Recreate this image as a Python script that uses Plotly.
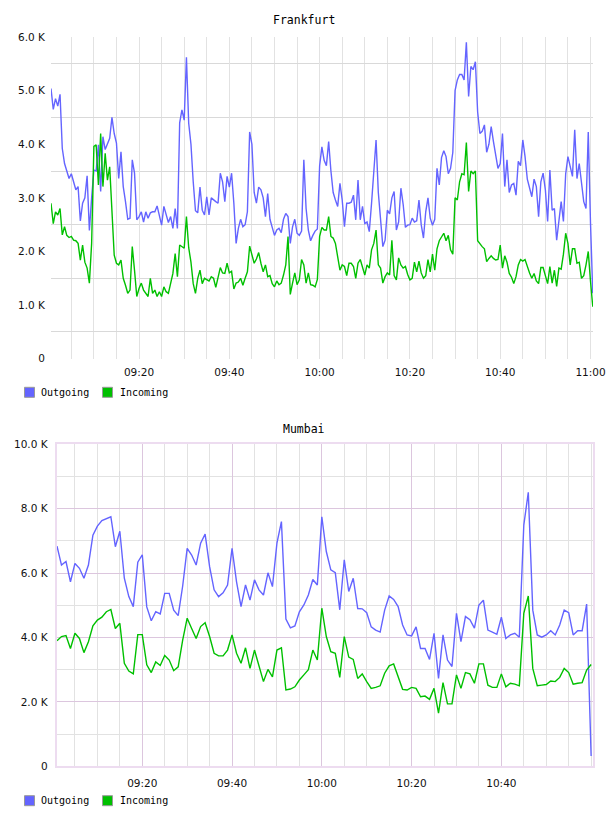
import pandas as pd
import plotly.graph_objects as go

# ---------------- data (values in K) ----------------
FRA_START = "2024-01-01 09:00:30"   # 30 s samples
FRA_OUT = [5.04, 4.65, 4.85, 4.71, 4.93, 3.92, 3.64, 3.50, 3.36, 3.45,
           3.30, 3.15, 3.21, 2.57, 2.90, 3.00, 3.41, 2.39, 3.00, 3.52,
           3.50, 3.99, 3.12, 4.14, 3.90, 3.99, 4.11, 4.50, 4.20, 4.02,
           3.36, 3.86, 3.21, 2.93, 2.60, 2.62, 3.71, 3.46, 2.59, 2.65,
           2.74, 2.55, 2.74, 2.62, 2.72, 2.74, 2.74, 2.85, 2.68, 2.49,
           2.84, 2.68, 2.54, 2.65, 2.43, 2.80, 2.43, 4.40, 4.64, 4.45,
           5.62, 4.39, 4.00, 3.30, 2.76, 2.72, 3.20, 2.77, 2.68, 3.02,
           2.68, 3.00, 2.96, 2.93, 2.90, 3.46, 3.30, 2.93, 3.40, 3.20,
           3.46, 2.90, 2.15, 2.43, 2.60, 2.46, 2.50, 2.74, 4.23, 4.00,
           3.10, 2.90, 3.20, 3.15, 3.00, 2.65, 3.08, 2.60, 2.45, 2.30,
           2.40, 2.43, 2.35, 2.60, 2.71, 2.65, 2.15, 2.46, 2.60, 2.34,
           2.30, 2.38, 3.71, 2.80, 2.40, 2.20, 2.30, 2.38, 2.42, 3.60,
           3.95, 3.70, 3.60, 4.05, 3.50, 3.10, 2.96, 2.84, 3.27, 2.96,
           2.46, 2.90, 2.90, 2.92, 3.05, 2.59, 3.33, 2.59, 2.84, 2.52,
           2.55, 2.37, 2.90, 3.52, 4.08, 3.10, 2.65, 2.09, 2.21, 2.77,
           2.70, 3.00, 3.12, 2.40, 2.55, 3.18, 2.88, 2.45, 2.49, 2.50,
           2.62, 2.55, 2.57, 2.96, 2.50, 2.25, 2.74, 3.00, 2.62, 2.49,
           2.60, 3.55, 3.24, 3.75, 3.88, 3.77, 3.45, 3.55, 3.85, 5.00,
           5.20, 5.30, 5.30, 5.20, 5.90, 4.89, 5.45, 5.39, 5.54, 4.60,
           4.20, 4.24, 4.36, 3.85, 4.00, 4.33, 4.05, 3.75, 3.55, 3.64,
           4.20, 3.21, 3.71, 3.10, 3.24, 3.27, 3.05, 3.68, 3.60, 4.08,
           3.77, 3.35, 3.18, 3.02, 3.35, 3.21, 2.65, 3.30, 3.46, 3.15,
           2.56, 3.52, 2.77, 2.80, 2.21, 2.59, 2.93, 2.56, 3.45, 3.77,
           3.61, 3.40, 4.27, 3.36, 3.64, 3.27, 2.93, 2.80, 4.23, 2.52,
           1.22]
FRA_IN = [2.90, 2.52, 2.74, 2.68, 2.80, 2.31, 2.46, 2.30, 2.26, 2.28,
          2.21, 2.20, 2.15, 1.84, 2.12, 1.80, 1.69, 1.41, 2.15, 3.96,
          3.99, 3.24, 4.20, 3.21, 3.83, 3.33, 3.58, 2.65, 1.93, 1.78,
          1.75, 1.84, 1.50, 1.37, 1.22, 1.28, 2.09, 1.65, 1.16, 1.31,
          1.41, 1.28, 1.22, 1.16, 1.50, 1.22, 1.28, 1.16, 1.25, 1.16,
          1.34, 1.25, 1.22, 1.41, 1.59, 1.96, 1.53, 2.12, 2.09, 2.06,
          2.65, 2.07, 1.80, 1.40, 1.22, 1.50, 1.65, 1.40, 1.50, 1.47,
          1.45, 1.53, 1.50, 1.33, 1.50, 1.70, 1.60, 1.59, 1.78, 1.60,
          1.63, 1.30, 1.41, 1.43, 1.50, 1.37, 1.50, 1.62, 2.10, 1.95,
          1.78, 1.86, 1.98, 1.78, 1.62, 1.75, 1.53, 1.55, 1.40, 1.34,
          1.45, 1.38, 1.41, 1.56, 1.75, 2.28, 1.20, 1.41, 1.60, 1.38,
          1.47, 1.85, 1.75, 1.41, 1.60, 1.38, 1.37, 1.34, 1.48, 2.28,
          2.45, 2.40, 2.40, 2.65, 2.28, 2.25, 2.15, 1.90, 1.65, 1.75,
          1.72, 1.55, 1.78, 1.78, 1.72, 1.50, 1.78, 1.85, 1.70, 1.56,
          1.75, 1.69, 2.03, 2.15, 2.40, 1.75, 1.69, 1.41, 1.53, 1.60,
          1.56, 2.21, 1.55, 1.47, 1.88, 1.75, 1.69, 1.72, 1.57, 1.47,
          1.50, 1.80, 1.62, 1.82, 1.60, 1.50, 1.55, 1.85, 1.62, 1.95,
          1.65, 2.05, 2.20, 2.28, 2.34, 2.20, 2.30, 2.03, 1.95, 3.00,
          2.96, 3.30, 3.45, 3.43, 4.03, 3.12, 3.50, 3.45, 3.50, 2.20,
          2.14, 2.09, 2.05, 1.81, 1.87, 1.92, 1.87, 1.84, 1.85, 2.12,
          1.69, 1.92, 1.80, 1.59, 1.52, 1.40, 1.53, 1.75, 1.85, 1.82,
          1.85, 1.70, 1.60, 1.50, 1.59, 1.45, 1.40, 1.70, 1.70, 1.55,
          1.40, 1.72, 1.41, 1.65, 1.35, 1.69, 1.67, 1.95, 2.34, 2.15,
          1.75, 2.05, 2.05, 1.78, 1.80, 1.50, 1.55, 1.75, 2.00, 1.44,
          0.97]

MUM_START = "2024-01-01 09:01:00"   # 1 min samples
MUM_OUT = [6.84, 6.25, 6.36, 5.73, 6.30, 6.15, 5.84, 6.25, 7.18, 7.46,
           7.63, 7.70, 7.75, 6.82, 7.30, 5.84, 5.27, 4.96, 6.34, 6.57,
           4.95, 4.52, 4.80, 4.73, 5.37, 5.37, 4.85, 4.68, 5.60, 6.77,
           6.56, 6.25, 6.93, 7.21, 6.20, 5.48, 5.27, 5.39, 5.63, 6.77,
           5.73, 4.96, 5.63, 5.16, 5.79, 5.48, 5.32, 6.01, 5.58, 6.93,
           7.60, 4.57, 4.30, 4.36, 4.80, 5.01, 5.32, 5.80, 5.63, 7.75,
           6.67, 6.10, 6.01, 4.86, 6.41, 5.43, 5.84, 4.90, 4.89, 4.77,
           4.33, 4.23, 4.17, 4.85, 5.29, 5.18, 4.96, 4.39, 4.08, 4.05,
           4.33, 3.66, 3.66, 3.32, 4.13, 2.73, 4.08, 3.30, 3.10, 4.75,
           3.87, 4.65, 4.55, 4.29, 5.01, 5.16, 4.23, 4.17, 4.10, 4.63,
           3.97, 4.08, 4.13, 4.01, 7.49, 8.51, 4.85, 4.08, 4.01, 4.08,
           4.21, 4.08, 4.39, 4.85, 4.77, 4.08, 4.21, 4.21, 5.04, 0.32]
MUM_IN = [3.90, 4.03, 4.06, 3.66, 4.13, 3.97, 3.53, 3.87, 4.36, 4.54,
          4.63, 4.80, 4.87, 4.28, 4.44, 3.20, 2.96, 2.87, 4.09, 4.09,
          3.15, 2.91, 3.24, 3.13, 3.44, 3.30, 2.97, 3.09, 3.92, 4.60,
          4.28, 3.97, 4.34, 4.46, 4.03, 3.51, 3.43, 3.43, 3.61, 4.08,
          3.51, 3.20, 3.68, 3.04, 3.61, 3.15, 2.63, 3.01, 2.78, 3.61,
          3.68, 2.37, 2.40, 2.47, 2.68, 2.84, 3.00, 3.61, 3.30, 4.91,
          4.03, 3.56, 3.51, 2.76, 4.03, 3.39, 3.32, 2.73, 2.87, 2.63,
          2.42, 2.45, 2.50, 2.89, 3.12, 3.18, 2.78, 2.39, 2.37, 2.45,
          2.42, 2.16, 2.18, 2.08, 2.42, 1.65, 2.60, 1.94, 1.94, 2.84,
          2.42, 2.91, 2.87, 2.58, 3.18, 3.18, 2.52, 2.45, 2.45, 2.87,
          2.47, 2.58, 2.55, 2.50, 4.75, 5.29, 3.04, 2.50, 2.52, 2.54,
          2.65, 2.63, 2.76, 3.04, 2.91, 2.55, 2.58, 2.60, 2.99, 3.16]

FRA_YTICKS = [0, 1000, 2000, 3000, 4000, 5000, 6000]
FRA_YLABELS = ["0", "1.0 K", "2.0 K", "3.0 K", "4.0 K", "5.0 K", "6.0 K"]
MUM_YTICKS = [0, 2000, 4000, 6000, 8000, 10000]
MUM_YLABELS = ["0", "2.0 K", "4.0 K", "6.0 K", "8.0 K", "10.0 K"]
MUM_XTICKS = ["09:20", "09:40", "10:00", "10:20", "10:40"]
SERIES = ["Outgoing", "Incoming"]

# ---------------- styles ----------------
BLUE = "#6464ff"
GREEN = "#00c000"
W, H = 608, 816
DAY = "2024-01-01 "
TICKFONT = dict(family="DejaVu Sans", size=10.5, color="#111")
MONO = "DejaVu Sans Mono"


def px_x(p):
    return p / W


def px_y(p):
    return 1 - p / H


fra_t = pd.date_range(FRA_START, periods=len(FRA_OUT), freq="30s")
mum_t = pd.date_range(MUM_START, periods=len(MUM_OUT), freq="1min")

fig = go.Figure()
fig.add_trace(go.Scatter(x=fra_t, y=[v * 1000 for v in FRA_OUT], mode="lines",
                         line=dict(color=BLUE, width=1.4), xaxis="x", yaxis="y",
                         name=SERIES[0], showlegend=False))
fig.add_trace(go.Scatter(x=fra_t, y=[v * 1000 for v in FRA_IN], mode="lines",
                         line=dict(color=GREEN, width=1.4), xaxis="x", yaxis="y",
                         name=SERIES[1], showlegend=False))
fig.add_trace(go.Scatter(x=mum_t, y=[v * 1000 for v in MUM_OUT], mode="lines",
                         line=dict(color=BLUE, width=1.4), xaxis="x2", yaxis="y2",
                         name=SERIES[0], showlegend=False))
fig.add_trace(go.Scatter(x=mum_t, y=[v * 1000 for v in MUM_IN], mode="lines",
                         line=dict(color=GREEN, width=1.4), xaxis="x2", yaxis="y2",
                         name=SERIES[1], showlegend=False))

GRID = "#e2e2e2"
HGRID = "#d9d9d9"
PURPLE = "#dcc6de"
FRAME = "#eddcf0"

fig.update_layout(
    template="none",
    width=W, height=H, autosize=False,
    margin=dict(l=0, r=0, t=0, b=0, pad=0),
    paper_bgcolor="white", plot_bgcolor="white",
    showlegend=False,
    xaxis=dict(domain=[px_x(51), px_x(593)], anchor="y", type="date",
               automargin=False,
               range=[DAY + "09:00:30", DAY + "11:00:33"],
               tick0=DAY + "09:00:00", dtick=20 * 60 * 1000, tickformat="%H:%M",
               showgrid=True, gridcolor=GRID, gridwidth=1, zeroline=False,
               showline=False, ticks="", tickfont=TICKFONT, ticklabelstandoff=6,
               minor=dict(tick0=DAY + "09:00:00", dtick=5 * 60 * 1000,
                          showgrid=True, gridcolor=GRID, gridwidth=1, ticks="")),
    yaxis=dict(domain=[px_y(358.7), px_y(37)], anchor="x", range=[0, 6000],
               automargin=False,
               tickmode="array", tickvals=FRA_YTICKS, ticktext=FRA_YLABELS,
               showgrid=False, zeroline=False, showline=False, ticks="",
               tickfont=TICKFONT, ticklabelstandoff=5,
               minor=dict(tickmode="array",
                          tickvals=[v + 500 for v in FRA_YTICKS[:-1]],
                          showgrid=True, gridcolor=HGRID, gridwidth=1, ticks="")),
    xaxis2=dict(domain=[px_x(56.7), px_x(593.3)], anchor="y2", type="date",
                automargin=False,
                range=[DAY + "09:00:56", DAY + "11:00:29"],
                tickmode="array", tickvals=[DAY + t for t in MUM_XTICKS],
                ticktext=MUM_XTICKS,
                showgrid=True, gridcolor=PURPLE, gridwidth=1, zeroline=False,
                showline=True, mirror=True, linecolor=FRAME, linewidth=2,
                ticks="", tickfont=TICKFONT, ticklabelstandoff=6,
                minor=dict(tick0=DAY + "09:00:00", dtick=5 * 60 * 1000,
                           showgrid=True, gridcolor=GRID, gridwidth=1, ticks="")),
    yaxis2=dict(domain=[px_y(766.3), px_y(444.3)], anchor="x2", range=[0, 10000],
                automargin=False,
                tickmode="array", tickvals=MUM_YTICKS, ticktext=MUM_YLABELS,
                showgrid=True, gridcolor=PURPLE, gridwidth=1, zeroline=False,
                showline=True, mirror=True, linecolor=FRAME, linewidth=2,
                ticks="", tickfont=TICKFONT, ticklabelstandoff=5,
                minor=dict(tickmode="array",
                           tickvals=[v + 1000 for v in MUM_YTICKS[:-1]],
                           showgrid=True, gridcolor=GRID, gridwidth=1, ticks="")),
)

annotations = [
    dict(text="Frankfurt", x=0.5, y=px_y(20), xref="paper", yref="paper",
         xanchor="center", yanchor="middle", showarrow=False,
         font=dict(family=MONO, size=11.5, color="#000")),
    dict(text="Mumbai", x=0.5, y=px_y(429), xref="paper", yref="paper",
         xanchor="center", yanchor="middle", showarrow=False,
         font=dict(family=MONO, size=11.5, color="#000")),
]
shapes = []
for cy in (392.3, 800.7):
    for name, color, sx, tx in ((SERIES[0], BLUE, 24.5, 38.5),
                                (SERIES[1], GREEN, 102.5, 117.5)):
        shapes.append(dict(type="rect", xref="paper", yref="paper",
                           x0=px_x(sx), x1=px_x(sx + 10),
                           y0=px_y(cy + 5), y1=px_y(cy - 5),
                           fillcolor=color, line=dict(color="#999", width=1)))
        annotations.append(dict(text=name, x=px_x(tx), y=px_y(cy),
                                xref="paper", yref="paper", xanchor="left",
                                yanchor="middle", showarrow=False,
                                font=dict(family=MONO, size=10, color="#000")))
fig.update_layout(annotations=annotations, shapes=shapes)

fig.write_html("out.html")
